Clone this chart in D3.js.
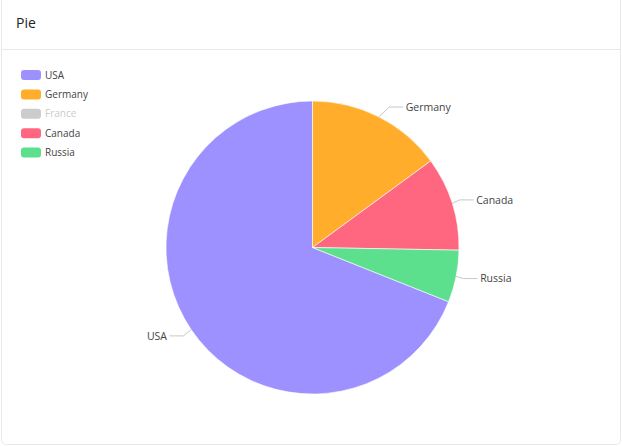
<!DOCTYPE html>
<html><head><meta charset="utf-8">
<script src="https://cdn.jsdelivr.net/npm/d3@7"></script>
<style>
html,body{margin:0;padding:0;background:#fff;}
svg{display:block;font-family:"Open Sans","Noto Sans",sans-serif;}
</style></head>
<body><svg id="chart" width="622" height="446"></svg>
<script>
const categories = ["USA", "Germany", "France", "Canada", "Russia"];
const values = [120, 26, 30, 18, 10];
const hidden = ["France"];
const sliceOrder = ["Germany", "France", "Canada", "Russia", "USA"];
const colors = ["#9c91ff", "#ffad2b", "#cccccc", "#ff6680", "#5de08e"];
const title = "Pie";

const svg = d3.select("#chart");
const W = 622, H = 446;

// card
svg.append("rect").attr("x", 1.5).attr("y", -5).attr("width", W - 3).attr("height", 449.5)
  .attr("rx", 5).attr("fill", "#fff").attr("stroke", "#e6e8ea");
svg.append("line").attr("x1", 2).attr("x2", W - 2).attr("y1", 49.5).attr("y2", 49.5).attr("stroke", "#e8e8e8");
svg.append("text").attr("x", 16).attr("y", 28).attr("font-size", 14).attr("fill", "#222").text(title);

const color = d3.scaleOrdinal().domain(categories).range(colors);

// legend
const legend = svg.append("g");
const ly = d3.scalePoint().domain(categories).range([75, 152.5]);
categories.forEach(c => {
  const off = hidden.includes(c);
  legend.append("rect").attr("x", 21).attr("y", ly(c) - 5).attr("width", 20).attr("height", 10).attr("rx", 3)
    .attr("fill", off ? "#cccccc" : color(c));
  legend.append("text").attr("x", 45).attr("y", ly(c)).attr("dy", "0.35em").attr("font-size", 10)
    .attr("fill", off ? "#cccccc" : "#444").text(c);
});

// pie
const cx = 312.5, cy = 247.5, r = 146.5;
const data = categories.map((c, i) => ({name: c, value: values[i]})).filter(d => !hidden.includes(d.name));
const pie = d3.pie().value(d => d.value)
  .sort((a, b) => sliceOrder.indexOf(a.name) - sliceOrder.indexOf(b.name));
const arcs = pie(data);
const arc = d3.arc().innerRadius(0).outerRadius(r);
const g = svg.append("g").attr("transform", `translate(${cx},${cy})`);
g.selectAll("path").data(arcs).join("path").attr("d", arc)
  .attr("fill", d => color(d.data.name)).attr("stroke", "#fff").attr("stroke-width", 0.6);

// labels
const rY = r + 11, rA = r + 7.5, rB = r + 15.5, len2 = 14;
arcs.forEach(a => {
  const m = (a.startAngle + a.endAngle) / 2;
  const sx = Math.sin(m), sy = -Math.cos(m);
  const dir = sx < 0 ? -1 : 1;
  const x1 = r * sx, y1 = r * sy;
  const y2 = rY * sy;
  const x2 = dir * rA * Math.sqrt(Math.max(0, 1 - (y2 * y2) / (rB * rB)));
  const x3 = x2 + dir * len2;
  g.append("polyline").attr("points", [[x1, y1], [x2, y2], [x3, y2]].map(p => p.join(",")).join(" "))
    .attr("fill", "none").attr("stroke", "#c8c8c8").attr("stroke-width", 1);
  g.append("text").attr("x", x3 + dir * 2.5).attr("y", y2).attr("dy", "0.35em")
    .attr("text-anchor", dir < 0 ? "end" : "start").attr("font-size", 10.5).attr("fill", "#444")
    .text(a.data.name);
});
</script></body></html>
